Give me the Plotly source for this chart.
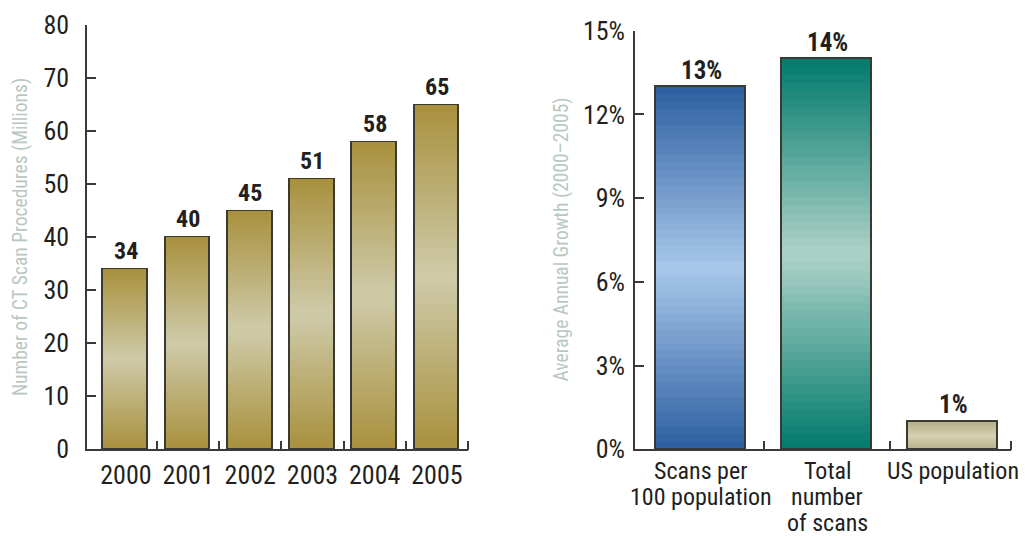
import plotly.graph_objects as go

# ---------------- data ----------------
years = ["2000", "2001", "2002", "2003", "2004", "2005"]
scans_millions = [34, 40, 45, 51, 58, 65]

growth_labels = ["Scans per<br>100 population", "Total<br>number<br>of scans", "US population"]
growth_pct = [13, 14, 1]

left_yticks = [0, 10, 20, 30, 40, 50, 60, 70, 80]
right_yticks = [0, 3, 6, 9, 12, 15]
right_yticktext = ["0%", "3%", "6%", "9%", "12%", "15%"]

# ---------------- style ----------------
FONT = "Liberation Sans Narrow, Arial Narrow, Roboto Condensed, Liberation Sans, sans-serif"
INK = "#231f20"
AXIS = "#3a3a3a"
OUTLINE = "#3b3a32"
TITLE_C = "#b7c8c0"
N_SEG = 48
W, H = 1021, 528   # page body has an 8px margin

gold = ((168, 144, 60), (207, 203, 170))
right_cols = [
    ((44, 95, 160), (168, 200, 235)),
    ((0, 122, 108), (174, 210, 200)),
    ((180, 175, 135), (213, 209, 180)),
]


def mix(pair, t):
    # t: 0 = bottom, 1 = top ; dark at ends, light in middle
    w = 1 - abs(2 * t - 1)
    d, l = pair
    c = [round(d[i] + (l[i] - d[i]) * w) for i in range(3)]
    return "rgb(%d,%d,%d)" % tuple(c)


fig = go.Figure()

xl = list(range(len(years)))
xr = list(range(len(growth_labels)))
WL = 0.72
WR = 0.72

# gradient segments (stacked)
for k in range(N_SEG):
    t = (k + 0.5) / N_SEG
    fig.add_trace(go.Bar(
        x=xl, y=[v / N_SEG for v in scans_millions], width=WL,
        marker=dict(color=mix(gold, t), line=dict(width=0)),
        xaxis="x", yaxis="y", showlegend=False, hoverinfo="skip"))
    fig.add_trace(go.Bar(
        x=xr, y=[v / N_SEG for v in growth_pct], width=WR,
        marker=dict(color=[mix(p, t) for p in right_cols], line=dict(width=0)),
        xaxis="x2", yaxis="y2", showlegend=False, hoverinfo="skip"))

# outlines
fig.add_trace(go.Bar(
    x=xl, y=scans_millions, width=WL,
    marker=dict(color="rgba(0,0,0,0)", line=dict(color=OUTLINE, width=1.6)),
    xaxis="x3", yaxis="y", showlegend=False))
fig.add_trace(go.Bar(
    x=xr, y=growth_pct, width=WR,
    marker=dict(color="rgba(0,0,0,0)", line=dict(color=OUTLINE, width=1.6)),
    xaxis="x4", yaxis="y2", showlegend=False))

# value labels
for x, v in zip(xl, scans_millions):
    fig.add_annotation(x=x, y=v, xref="x", yref="y", text="<b>%d</b>" % v,
                       showarrow=False, yanchor="bottom", yshift=2,
                       font=dict(family=FONT, size=24, color=INK))
for x, v in zip(xr, growth_pct):
    fig.add_annotation(x=x, y=v, xref="x2", yref="y2", text="<b>%d%%</b>" % v,
                       showarrow=False, yanchor="bottom", yshift=0,
                       font=dict(family=FONT, size=25, color=INK))

# category labels of the right chart, one line at a time
for x, lab in zip(xr, growth_labels):
    for k, line in enumerate(lab.split("<br>")):
        fig.add_annotation(x=x, y=0, xref="x2", yref="y2", text=line,
                           showarrow=False, yanchor="top", yshift=-(8 + 26 * k),
                           height=26, borderpad=0,
                           font=dict(family=FONT, size=24, color=INK))

# axis titles
fig.add_annotation(x=12 / W, y=1 - 229 / H, xref="paper", yref="paper",
                   text="Number of CT Scan Procedures (Millions)", textangle=-90,
                   showarrow=False, xanchor="center", yanchor="middle", borderpad=0,
                   font=dict(family=FONT, size=19.5, color=TITLE_C))
fig.add_annotation(x=552.5 / W, y=1 - 232 / H, xref="paper", yref="paper",
                   text="Average Annual Growth (2000\u20132005)", textangle=-90,
                   showarrow=False, xanchor="center", yanchor="middle", borderpad=0,
                   font=dict(family=FONT, size=19.5, color=TITLE_C))

tickfont = dict(family=FONT, size=26, color=INK)
L_RANGE = [-0.625, len(years) - 0.5]
R_RANGE = [-0.524, len(growth_labels) - 0.54]
L_DOM = [79 / W, 460 / W]
R_DOM = [627 / W, 1003 / W]
r_bounds = [i + 0.5 for i in xr[:-1]] + [R_RANGE[1]]

xcommon = dict(showline=True, linecolor=AXIS, linewidth=1.5, showgrid=False,
               zeroline=False, ticks="", tickfont=tickfont, automargin=False,
               fixedrange=True)

fig.update_layout(
    width=W, height=H,
    margin=dict(l=0, r=0, t=0, b=0),
    paper_bgcolor="white", plot_bgcolor="white",
    barmode="stack", bargap=0,
    showlegend=False,
    xaxis=dict(domain=L_DOM, range=L_RANGE, tickmode="array", tickvals=xl,
               ticktext=years, ticklabelstandoff=2,
               minor=dict(tickmode="array", tickvals=[i + 0.5 for i in xl],
                          ticks="inside", ticklen=9, tickwidth=1.5, tickcolor=AXIS),
               **xcommon),
    xaxis2=dict(domain=R_DOM, range=R_RANGE, tickmode="array", tickvals=xr,
                showticklabels=False, anchor="y2",
                minor=dict(tickmode="array", tickvals=r_bounds,
                           ticks="inside", ticklen=9, tickwidth=1.5, tickcolor=AXIS),
                **xcommon),
    xaxis3=dict(overlaying="x", range=L_RANGE, visible=False, anchor="y"),
    xaxis4=dict(overlaying="x2", range=R_RANGE, visible=False, anchor="y2"),
    yaxis=dict(domain=[(H - 441.3) / H, (H - 17.3) / H], range=[0, 80],
               tickmode="array", tickvals=left_yticks, ticks="inside", ticklen=9,
               tickwidth=1.5, tickcolor=AXIS, showline=True, linecolor=AXIS,
               linewidth=1.5, showgrid=False, zeroline=False, tickfont=tickfont,
               ticklabelstandoff=11, automargin=False, anchor="x"),
    yaxis2=dict(domain=[(H - 441.3) / H, (H - 22.7) / H], range=[0, 15],
                tickmode="array", tickvals=right_yticks, ticktext=right_yticktext,
                ticks="inside", ticklen=9, tickwidth=1.5, tickcolor=AXIS,
                showline=True, linecolor=AXIS, linewidth=1.5, showgrid=False,
                zeroline=False, tickfont=tickfont, ticklabelstandoff=3,
                automargin=False, anchor="x2"),
)

fig.write_html("out.html")
